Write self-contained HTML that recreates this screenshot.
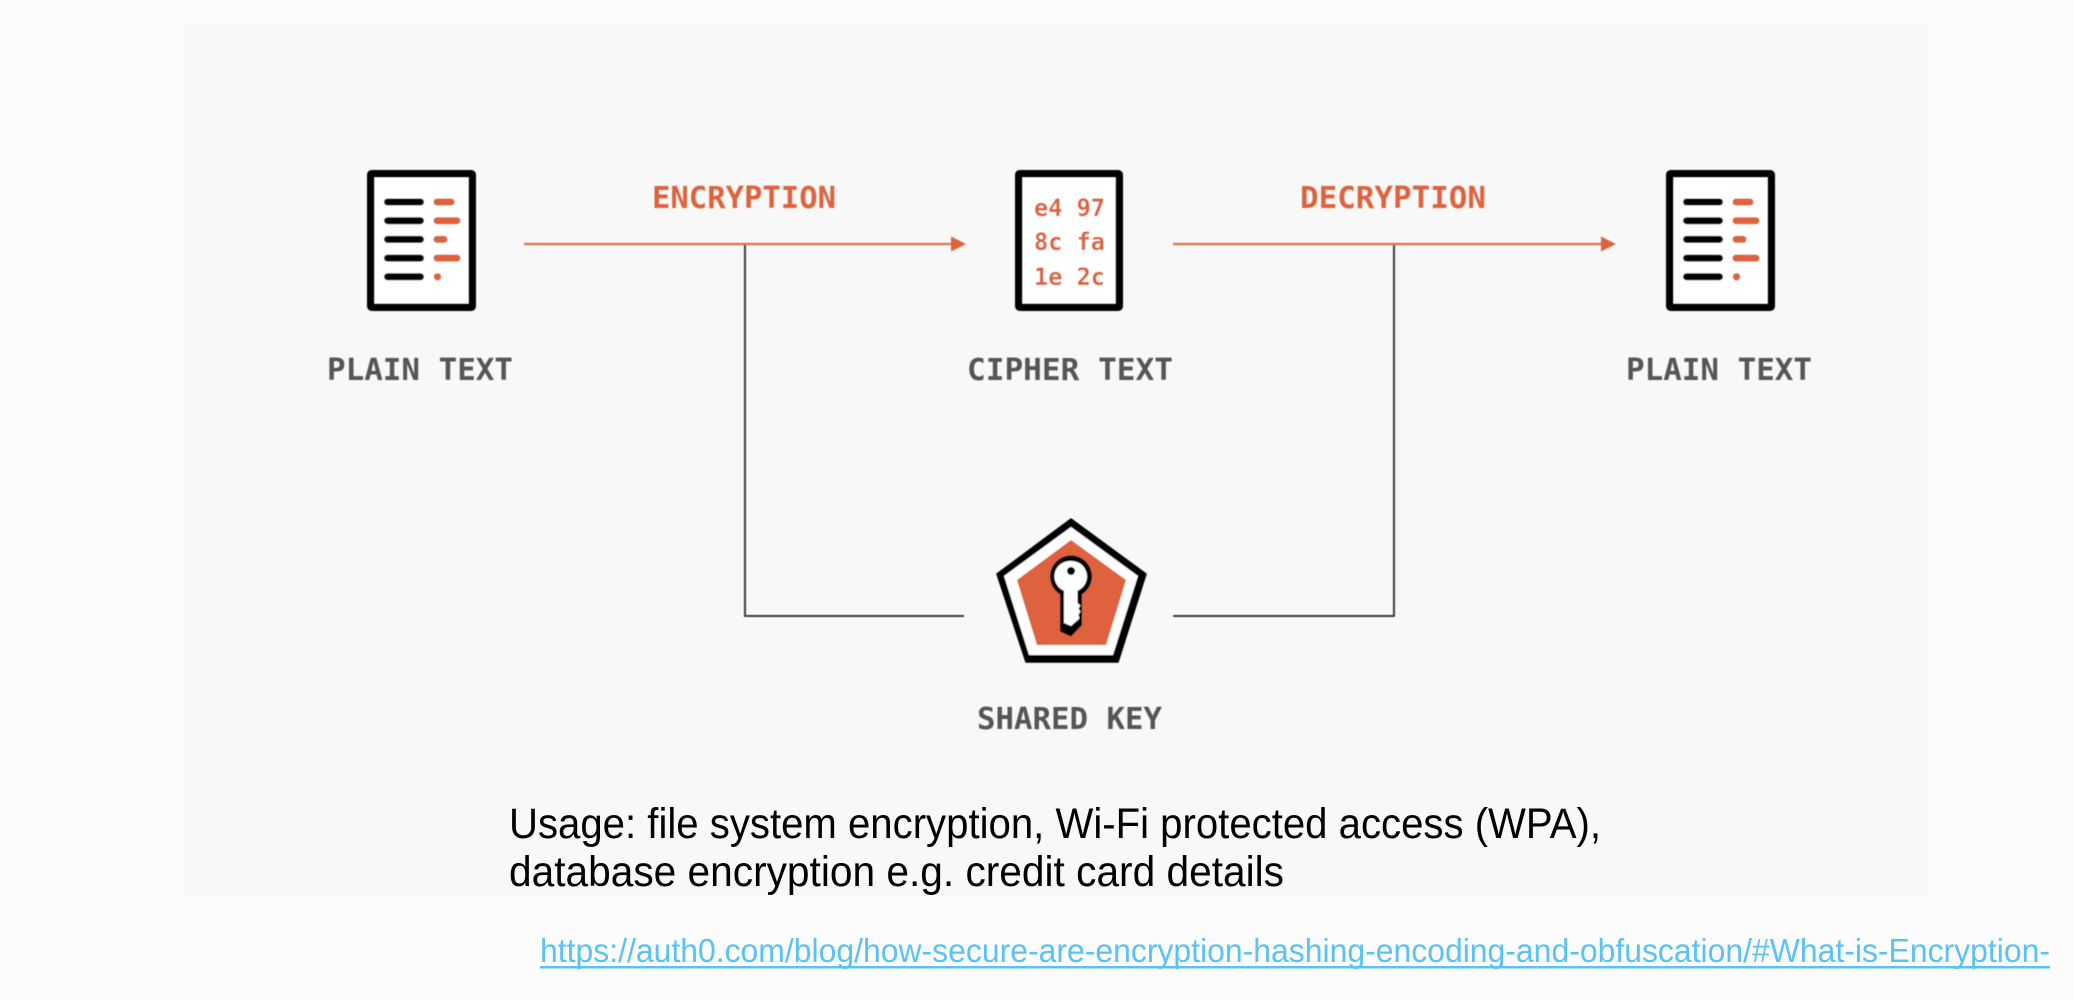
<!DOCTYPE html>
<html><head><meta charset="utf-8"><style>
html,body{margin:0;padding:0;background:#fcfcfc;width:2074px;height:1000px;overflow:hidden}
svg{display:block}
</style></head><body>
<svg width="2074" height="1000" viewBox="0 0 2074 1000" xmlns="http://www.w3.org/2000/svg">
<defs>
<filter id="b" x="-5%" y="-5%" width="110%" height="110%"><feGaussianBlur stdDeviation="0.6"/></filter>
<g id="doc">
<rect x="3.75" y="3.75" width="101.5" height="133.5" rx="1" fill="#fff" stroke="#000" stroke-width="7.5"/>
<g stroke="#000" stroke-width="7" stroke-linecap="round">
<path d="M20.5 32H53.5M20.5 50.700H53.5M20.500 69.400H53.500M20.500 88.100H53.500M20.500 106.800H53.500"/>
</g>
<g stroke="#dd623c" stroke-width="7" stroke-linecap="round">
<path d="M70 32H84M70 50.700H90M70 69.400H77M70 88.100H90"/>
</g>
<circle cx="70.500" cy="106.800" r="3.700" fill="#dd623c"/>
</g>
</defs>
<rect width="2074" height="1000" fill="#fcfcfc"/>
<rect x="184" y="24" width="1744" height="871" fill="#f8f8f8"/>
<g filter="url(#b)">
<use href="#doc" x="367" y="170"/>
<use href="#doc" x="1666" y="170"/>
<rect x="1018.750" y="173.750" width="100.500" height="133.500" rx="1" fill="#fff" stroke="#000" stroke-width="7.500"/>

<path d="M745 244V616H964M1394 244V616H1173" fill="none" stroke="#3c3c3c" stroke-width="2"/>
<path d="M524 244H955M1173 244H1605" fill="none" stroke="#e0704e" stroke-width="2.200"/>
<path d="M951 236.500L966 244L951 251.500ZM1601 236.500L1616 244L1601 251.500Z" fill="#dd623c"/>

<polygon points="1071,519 997,574 1026,662 1118,662 1146,574" fill="#000" stroke="#000" stroke-width="1.500" stroke-linejoin="round"/>
<polygon points="1071,527 1004,576 1029,655 1113,655 1138,576" fill="#fff"/>
<polygon points="1071,540 1017,580 1037,645 1106,645 1126,580" fill="#dd623c"/>
<path d="M1071 555.500a21 21 0 0 1 11 38.800V625l-11 11.500-11-5V594.300A21 21 0 0 1 1071 555.500Z" fill="#000"/>
<path d="M1071 561a15.500 15.500 0 0 1 6.500 29.800V603l3 2.500-2 3 2 3-2 3 1 4-8.500 7.500-7-3V590.800A15.500 15.500 0 0 1 1071 561Z" fill="#fff"/>
<circle cx="1071" cy="571" r="4" fill="#000"/>

<g font-family="'DejaVu Sans Mono',monospace" font-weight="700">
<g fill="#dd623c" font-size="30">
<text x="652" y="208" textLength="184" lengthAdjust="spacingAndGlyphs">ENCRYPTION</text>
<text x="1300" y="208" textLength="186" lengthAdjust="spacingAndGlyphs">DECRYPTION</text>
</g>
<g fill="#dd623c" font-size="24">
<text x="1034" y="216" textLength="71" lengthAdjust="spacingAndGlyphs">e4 97</text>
<text x="1034" y="250" textLength="71" lengthAdjust="spacingAndGlyphs">8c fa</text>
<text x="1034" y="285" textLength="71" lengthAdjust="spacingAndGlyphs">1e 2c</text>
</g>
<g fill="#555" font-size="30">
<text x="327" y="380" textLength="186" lengthAdjust="spacingAndGlyphs">PLAIN TEXT</text>
<text x="967" y="380" textLength="206" lengthAdjust="spacingAndGlyphs">CIPHER TEXT</text>
<text x="1626" y="380" textLength="186" lengthAdjust="spacingAndGlyphs">PLAIN TEXT</text>
<text x="977" y="729" textLength="185" lengthAdjust="spacingAndGlyphs">SHARED KEY</text>
</g>
</g>
</g>
<g font-family="'Liberation Sans',Arial,sans-serif">
<text x="509" y="838" font-size="43" fill="#000" textLength="1092" lengthAdjust="spacingAndGlyphs">Usage: file system encryption, Wi-Fi protected access (WPA),</text>
<text x="509" y="886" font-size="43" fill="#000" textLength="775" lengthAdjust="spacingAndGlyphs">database encryption e.g. credit card details</text>
<text x="540" y="962" font-size="33" fill="#5bc2f5" textLength="1510" lengthAdjust="spacingAndGlyphs">https://auth0.com/blog/how-secure-are-encryption-hashing-encoding-and-obfuscation/#What-is-Encryption-</text>
</g>
<rect x="540" y="966" width="1510" height="2.500" fill="#5bc2f5"/>
</svg>
</body></html>
